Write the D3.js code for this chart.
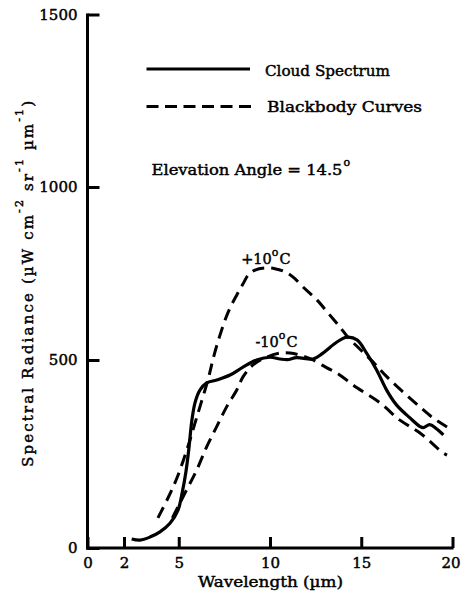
<!DOCTYPE html>
<html><head><meta charset="utf-8">
<script src="https://cdn.jsdelivr.net/npm/d3@7"></script>
<style>
html,body{margin:0;padding:0;background:#fff;}
svg text{font-family:"DejaVu Serif",serif;fill:#000;stroke:#000;stroke-width:0.45px;}
</style></head>
<body>
<svg id="chart" width="461" height="598"></svg>
<script>
// ---- data ----
const cloudWl  = [2.42,2.88,3.42,3.97,4.52,4.96,5.2,5.4,5.55,5.72,5.9,6.16,6.53,7.08,7.81,8.52,9.27,10.0,10.55,10.95,11.46,12.36,12.9,13.67,14.22,14.77,15.3,15.85,16.39,16.94,17.67,18.22,18.4,18.75,19.1,19.5];
const cloudRad = [24,21,29,43,66,101,150,205,262,340,388,420,439,447,460,481,500,508,503,501,507,503,520,552,566,558,519,473,420,380,346,323,320,328,318,301];

const plusWl  = [3.86,4.41,4.9,5.45,6.0,6.62,6.89,7.26,7.72,8.18,8.54,8.81,9.18,9.73,10.27,10.82,11.3,11.81,12.58,13.18,13.84,14.27,15.64,16.41,17.29,18.22,18.93,19.7];
const plusRad = [80,133,186,262,350,451,505,572,640,688,722,746,760,766,764,755,738,711,673,636,595,566,495,455,415,375,346,322];

const minusWl  = [4.65,5.34,5.98,6.53,7.08,7.63,8.18,8.52,9.07,9.84,10.55,11.1,11.64,12.36,13.12,13.67,14.77,16.03,17.12,18.22,19.48,19.7];
const minusRad = [80,146,207,269,323,376,420,455,487,509,520,520,514,500,479,465,426,386,340,306,253,247];

const xTicks = [0,2,5,10,15,20];
const yTicks = [0,500,1000,1500];
const legendLabels = ["Cloud Spectrum","Blackbody Curves"];
const curveLabels = [{t:"+10",w:8.42,v:777},{t:"-10",w:9.2,v:538}];

// ---- scales ----
const svg = d3.select("#chart");
const x = d3.scaleLinear().domain([0,20]).range([87.5,452.5]);
// the scanned axis has slightly uneven tick spacing, reproduced piecewise
const y = d3.scaleLinear().domain([0,500,1000,1500]).range([548,360,187,14.5]);

const line = (wl,rad) => d3.line().x((d,i)=>x(wl[i])).y((d,i)=>y(rad[i])).curve(d3.curveCatmullRom.alpha(0.5))(wl);

// ---- axes ----
const xAxis = svg.append("g").attr("transform",`translate(0,${y(0)})`)
  .call(d3.axisBottom(x).tickValues(xTicks).tickSizeInner(-11).tickSizeOuter(0).tickPadding(9).tickFormat(d3.format("d")));
const yAxis = svg.append("g").attr("transform",`translate(${x(0)},0)`)
  .call(d3.axisLeft(y).tickValues(yTicks).tickSizeInner(-12).tickSizeOuter(0).tickPadding(10).tickFormat(d3.format("d")));
[xAxis,yAxis].forEach(g=>{
  g.select(".domain").attr("stroke","#000").attr("stroke-width",3);
  g.selectAll(".tick line").attr("stroke","#000").attr("stroke-width",3);
  g.selectAll(".tick text").attr("font-family","DejaVu Serif").attr("font-size",15).attr("fill","#000");
});
xAxis.select(".domain").attr("d",`M${x(0)-1.5},0H${x(20)+1}`);
yAxis.select(".domain").attr("d",`M0,${y(0)+1.5}V${y(1500)-1}`);
xAxis.selectAll(".tick text").filter(d=>d===20).attr("dx",-2);

// ---- curves ----
svg.append("path").attr("d",line(plusWl,plusRad)).attr("fill","none").attr("stroke","#000")
  .attr("stroke-width",3).attr("stroke-dasharray","12,7");
svg.append("path").attr("d",line(minusWl,minusRad)).attr("fill","none").attr("stroke","#000")
  .attr("stroke-width",3).attr("stroke-dasharray","12,7");
svg.append("path").attr("d",line(cloudWl,cloudRad)).attr("fill","none").attr("stroke","#000")
  .attr("stroke-width",3.2).attr("stroke-linejoin","round");

// ---- legend ----
svg.append("line").attr("x1",146.5).attr("x2",250).attr("y1",69).attr("y2",69).attr("stroke","#000").attr("stroke-width",3);
svg.append("line").attr("x1",146.5).attr("x2",252).attr("y1",106.5).attr("y2",106.5).attr("stroke","#000").attr("stroke-width",3).attr("stroke-dasharray","12,6.5");
svg.append("text").attr("x",265).attr("y",76).attr("font-size",15).attr("textLength",125).attr("lengthAdjust","spacingAndGlyphs").text(legendLabels[0]);
svg.append("text").attr("x",267).attr("y",112).attr("font-size",15).attr("textLength",155).attr("lengthAdjust","spacingAndGlyphs").text(legendLabels[1]);

// elevation angle
const el = svg.append("text").attr("x",151.5).attr("y",175).attr("font-size",15);
el.append("tspan").attr("textLength",191).attr("lengthAdjust","spacingAndGlyphs").text("Elevation Angle = 14.5");
el.append("tspan").attr("font-size",11).attr("dy",-9).attr("dx",1).text("o");

// curve labels
const cl = svg.selectAll("text.cl").data(curveLabels).join("text").attr("class","cl")
  .attr("x",d=>x(d.w)).attr("y",d=>y(d.v)).attr("font-size",14.5);
cl.append("tspan").text(d=>d.t);
cl.append("tspan").attr("font-size",11).attr("dy",-8).text("o");
cl.append("tspan").attr("dy",8).attr("dx",1).text("C");

// axis titles
svg.append("text").attr("x",270.5).attr("y",587).attr("font-size",15).attr("text-anchor","middle")
  .attr("textLength",145).attr("lengthAdjust","spacingAndGlyphs").text("Wavelength (µm)");

const yl = svg.append("text").attr("transform","translate(33,284) rotate(-90)").attr("font-size",15)
  .attr("text-anchor","middle").attr("textLength",366).attr("lengthAdjust","spacing");
yl.append("tspan").text("Spectral Radiance (µW cm");
yl.append("tspan").attr("font-size",11).attr("dy",-10).text("-2");
yl.append("tspan").attr("dy",10).text(" sr");
yl.append("tspan").attr("font-size",11).attr("dy",-10).text("-1");
yl.append("tspan").attr("dy",10).text(" µm");
yl.append("tspan").attr("font-size",11).attr("dy",-10).text("-1");
yl.append("tspan").attr("dy",10).text(")");
</script>
</body></html>
